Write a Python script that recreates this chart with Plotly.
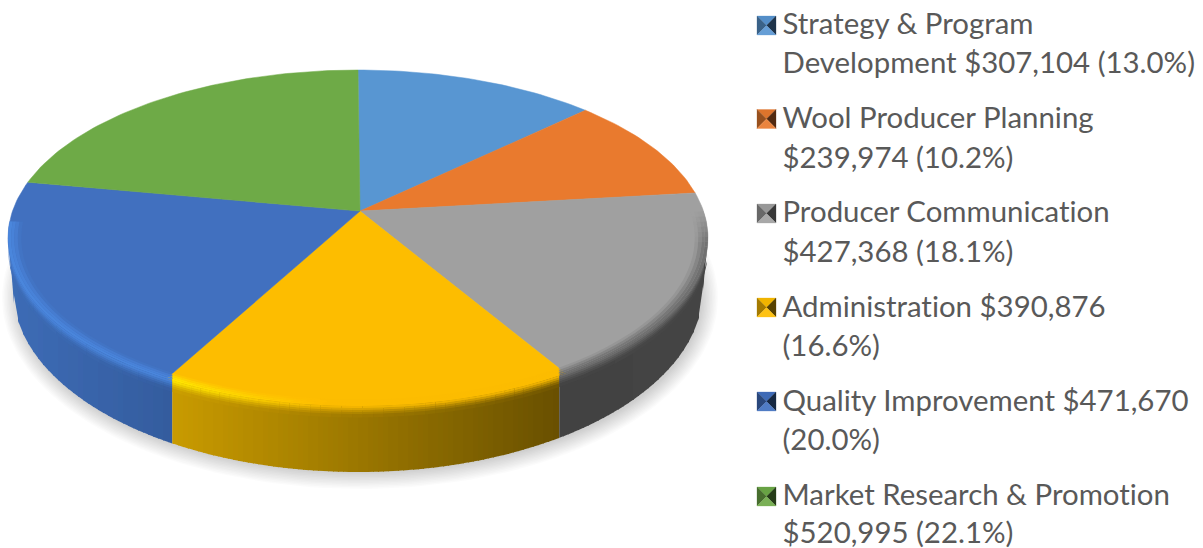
import math
from collections import defaultdict
import plotly.graph_objects as go

# ---------- data ----------
categories = ["Strategy & Program Development", "Wool Producer Planning", "Producer Communication",
              "Administration", "Quality Improvement", "Market Research & Promotion"]
values = [307104, 239974, 427368, 390876, 471670, 520995]
label_lines = [
    ["Strategy & Program", "Development $307,104 (13.0%)"],
    ["Wool Producer Planning", "$239,974 (10.2%)"],
    ["Producer Communication", "$427,368 (18.1%)"],
    ["Administration $390,876", "(16.6%)"],
    ["Quality Improvement $471,670", "(20.0%)"],
    ["Market Research & Promotion", "$520,995 (22.1%)"],
]
face_colors = ["#5896d2", "#e97a2e", "#a0a0a0", "#fdbd00", "#4170bf", "#6eaa47"]

# ---------- geometry of the drawing (axis units = px) ----------
W, H = 1203, 548
CX, CY, RX, RY = 358.0, 238.0, 350.0, 168.0      # top ellipse
BCY, BRX, BRY = 290.0, 345.0, 182.0              # bottom ellipse
P = 0.16                                         # perspective shift of pie centre

def hexrgb(c):
    c = c.lstrip("#")
    return tuple(int(c[i:i+2], 16) for i in (0, 2, 4))

def mix(a, b, k):
    k = max(0.0, min(1.0, k))
    return tuple(a[i] + (b[i] - a[i]) * k for i in range(3))

def col(c):
    return "rgb(%d,%d,%d)" % tuple(min(255, int(round(v / 2.0) * 2)) for v in c)

def project(theta):
    """pie-plane angle (clockwise from top) -> edge pixel on the top ellipse"""
    x, y = math.sin(theta), math.cos(theta)
    d = 1 + P * y
    yy = (y + P) / d
    xx = x * math.sqrt(1 - P * P) / d
    return CX + RX * xx, CY - RY * yy

APEX = (360.0, CY - RY * P)
total = sum(values)
bounds = [0.0]
for v in values:
    bounds.append(bounds[-1] + v / total * 2 * math.pi)

polys = defaultdict(list)
def add(color, pts):
    polys[color].append(pts)

fig = go.Figure()

def emit():
    for c, plist in polys.items():
        xs, ys = [], []
        for pts in plist:
            xs += [p[0] for p in pts] + [pts[0][0], None]
            ys += [p[1] for p in pts] + [pts[0][1], None]
        fig.add_trace(go.Scatter(x=xs, y=ys, mode="lines", fill="toself", fillcolor=c,
                                 line=dict(width=0), showlegend=False, hoverinfo="skip"))
    polys.clear()

# ---------- soft shadow ----------
N_SH = 12
for i in range(N_SH):
    g = i / (N_SH - 1)
    rx = 358 - 16 * g
    ry = 191 - 16 * g
    xs = [360 + rx * math.cos(a * math.pi / 90) for a in range(181)]
    ys = [298 + ry * math.sin(a * math.pi / 90) for a in range(181)]
    fig.add_trace(go.Scatter(x=xs, y=ys, mode="lines", fill="toself", fillcolor="rgba(0,0,0,0.014)",
                             line=dict(width=0), showlegend=False, hoverinfo="skip"))

# ---------- seams of the visible side wall ----------
def seam_x(theta):
    ex, _ = project(theta)
    return APEX[0] + 0.97 * (ex - APEX[0])

SEAM_L = seam_x(bounds[4])   # quality / administration
SEAM_R = seam_x(bounds[3])   # administration / communication

def side_color(x):
    if x < SEAM_L:
        return mix(hexrgb("#3d6cb6"), hexrgb("#345c9e"), (x - 8) / (SEAM_L - 8))
    if x < SEAM_R:
        return mix(hexrgb("#c99b00"), hexrgb("#695000"), (x - SEAM_L) / (SEAM_R - SEAM_L))
    return mix(hexrgb("#424242"), hexrgb("#444444"), (x - SEAM_R) / (708 - SEAM_R))

def top_y(x):
    t = min(1.0, abs(x - CX) / RX)
    return CY + RY * math.sqrt(1 - t * t)

def bot_y(x):
    d = abs(x - CX)
    if d <= BRX:
        return BCY + BRY * math.sqrt(1 - (d / BRX) ** 2)
    return CY + (BCY - CY) * (RX - d) / (RX - BRX)

# side wall built out of vertical strips, each overlapping the next one
edges = [CX - RX, CX - RX + 2, CX - BRX]
x = CX - BRX + 5
xs_cut = []
while x < CX + BRX:
    xs_cut.append(x)
    x += 5
allx = sorted(set(edges + xs_cut + [SEAM_L, SEAM_R, CX + BRX, CX + RX - 2, CX + RX]))
for a, b in zip(allx[:-1], allx[1:]):
    m = (a + b) / 2
    b2 = min(b + 1.0, CX + RX) if b not in (SEAM_L, SEAM_R) else b
    pts = [(a, top_y(a) - 1), (b2, top_y(b2) - 1), (b2, bot_y(b2)), (a, bot_y(a))]
    fig.add_trace(go.Scatter(x=[p[0] for p in pts] + [pts[0][0]], y=[p[1] for p in pts] + [pts[0][1]],
                             mode="lines", fill="toself", fillcolor=col(side_color(m)),
                             line=dict(width=0), showlegend=False, hoverinfo="skip"))

# ---------- top faces ----------
for i, c in enumerate(face_colors):
    n = max(6, int((bounds[i + 1] - bounds[i]) / 0.02))
    arc = [project(bounds[i] + (bounds[i + 1] - bounds[i]) * k / n) for k in range(n + 1)]
    pts = [APEX] + arc
    xs = [p[0] for p in pts] + [APEX[0]]
    ys = [p[1] for p in pts] + [APEX[1]]
    fig.add_trace(go.Scatter(x=xs, y=ys, mode="lines", fill="toself", fillcolor=c,
                             line=dict(color=c, width=0.5), showlegend=False, hoverinfo="skip"))

# ---------- bevel on the rim ----------
def pt(phi, s, d):
    return (CX + s * RX * math.cos(phi), CY + d + s * RY * math.sin(phi))

BLUE = hexrgb(face_colors[4]); YEL = hexrgb(face_colors[3]); GRY = hexrgb(face_colors[2])
GREY_EDGE = mix(GRY, hexrgb("#4a4a4a"), 0.55)

def peak(x):
    if x < SEAM_L:
        return hexrgb("#4a86dd")
    if x < SEAM_R:
        return mix(hexrgb("#ffe800"), YEL, (x - SEAM_L) / 150)
    return GREY_EDGE

def face_of(x):
    return BLUE if x < SEAM_L else (YEL if x < SEAM_R else GRY)

# inner bands (s0, s1, strength from face to peak), outer bands (d0, d1, strength from peak to side)
inner = [(0.962, 0.972, 0.2), (0.972, 0.982, 0.55), (0.982, 0.991, 0.85), (0.991, 1.0, 1.0)]
outer = [(0, 2, 0.12), (2, 4, 0.35), (4, 6, 0.6), (6, 8, 0.8), (8, 11, 0.95)]

def phi_at_x(x, s):
    return math.acos(max(-1, min(1, (x - CX) / (s * RX))))

def phi_range(start, end, step=0.03):
    out, p = [], start
    while p < end:
        out.append(p)
        p += step
    out.append(end)
    return out

for s0, s1, k in inner:
    sm = (s0 + s1) / 2
    arcs = [
        (phi_at_x(SEAM_L, sm), math.pi + 0.10),        # quality improvement, left part
        (phi_at_x(SEAM_R, sm), phi_at_x(SEAM_L, sm)),  # administration
        (-0.16, phi_at_x(SEAM_R, sm)),                 # producer communication
    ]
    for a0, a1 in arcs:
        ph = phi_range(a0, a1)
        for p0, p1 in zip(ph[:-1], ph[1:]):
            pm = (p0 + p1) / 2
            xm = CX + sm * RX * math.cos(pm)
            if xm >= SEAM_R:
                fade = min(1.0, max(0.0, (pm + 0.16) / 0.2))
                c = mix(GRY, GREY_EDGE, k * fade)
            else:
                c = mix(face_of(xm), peak(xm), k)
            add(col(c), [pt(p0, s0, 0), pt(p1, s0, 0), pt(p1, s1, 0), pt(p0, s1, 0)])
    emit()

for d0, d1, k in outer:
    arcs = [
        (phi_at_x(SEAM_L, 1.0), math.pi),
        (phi_at_x(SEAM_R, 1.0), phi_at_x(SEAM_L, 1.0)),
        (0.0, phi_at_x(SEAM_R, 1.0)),
    ]
    for a0, a1 in arcs:
        ph = phi_range(a0, a1)
        for p0, p1 in zip(ph[:-1], ph[1:]):
            pm = (p0 + p1) / 2
            xm = CX + RX * math.cos(pm)
            c = mix(peak(xm), side_color(xm), k)
            add(col(c), [pt(p0, 1, d0), pt(p1, 1, d0), pt(p1, 1, d1 + 0.5), pt(p0, 1, d1 + 0.5)])
    emit()

# ---------- legend keys (bevelled squares) and texts ----------
KEY_X0, KEY_SIZE = 757.0, 19.0
key_tops = [16, 109.5, 204, 298, 392, 487]
line_ys = [27, 66, 121, 161, 215, 255, 310, 349, 404, 443, 498, 536]
TEXT_X = 782.5

for t, c in zip(key_tops, face_colors):
    base = hexrgb(c)
    x0, x1 = KEY_X0, KEY_X0 + KEY_SIZE
    y0, y1 = t, t + KEY_SIZE
    xc, yc = (x0 + x1) / 2, (y0 + y1) / 2
    tris = [
        ([(x0, y0), (x1, y0), (xc, yc)], mix(base, (0, 0, 0), 0.05)),
        ([(x0, y0), (x0, y1), (xc, yc)], mix(base, (0, 0, 0), 0.35)),
        ([(x1, y0), (x1, y1), (xc, yc)], mix(base, (0, 0, 0), 0.65)),
        ([(x0, y1), (x1, y1), (xc, yc)], mix(base, (255, 255, 255), 0.08)),
    ]
    for pts, cc in tris:
        cs = col(cc)
        fig.add_trace(go.Scatter(x=[p[0] for p in pts] + [pts[0][0]], y=[p[1] for p in pts] + [pts[0][1]],
                                 mode="lines", fill="toself", fillcolor=cs, line=dict(color=cs, width=0.3),
                                 showlegend=False, hoverinfo="skip"))

flat = [l for pair in label_lines for l in pair]
fig.add_trace(go.Scatter(x=[TEXT_X] * len(flat), y=line_ys, mode="text", text=flat,
                         textposition="middle right",
                         textfont=dict(family="Lato, Carlito, Calibri, sans-serif", size=29.4, color="#595959"),
                         showlegend=False, hoverinfo="skip", cliponaxis=False))

fig.update_layout(
    width=W, height=H, margin=dict(l=0, r=0, t=0, b=0),
    paper_bgcolor="white", plot_bgcolor="white", showlegend=False,
    xaxis=dict(range=[0, W], visible=False, fixedrange=True),
    yaxis=dict(range=[H, 0], visible=False, fixedrange=True),
)
reset_css = ("document.body.style.margin='0';document.body.style.overflow='hidden';"
             "var s=document.createElement('style');"
             "s.textContent='text{font-variant-ligatures:none !important;"
             "font-feature-settings:\"liga\" 0,\"clig\" 0 !important}';document.head.appendChild(s);")
fig.write_html("out.html", config={"displayModeBar": False}, post_script=reset_css)
